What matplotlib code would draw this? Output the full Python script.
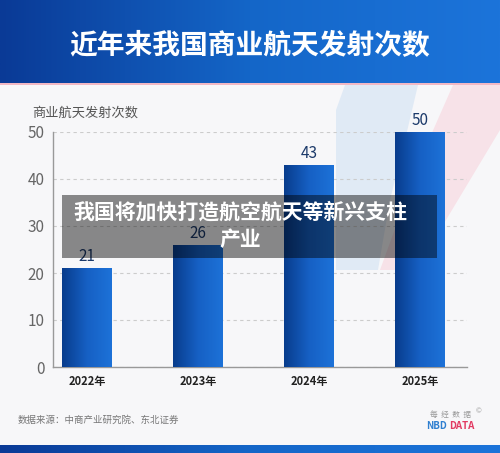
import matplotlib
matplotlib.use("Agg")
import matplotlib.pyplot as plt
import numpy as np
from matplotlib.patches import Rectangle, Polygon
from matplotlib.colors import LinearSegmentedColormap

plt.rcParams['font.family'] = ['Noto Sans CJK SC', 'DejaVu Sans']

years = ["2022年", "2023年", "2024年", "2025年"]
launches = [21, 26, 43, 50]
yticks = [0, 10, 20, 30, 40, 50]
title = "近年来我国商业航天发射次数"
ylabel = "商业航天发射次数"
overlay_text = "我国将加快打造航空航天等新兴支柱\n产业"
source = "数据来源：中商产业研究院、东北证券"

W, H = 500, 453
fig = plt.figure(figsize=(W / 100, H / 100), dpi=100)
fig.patch.set_facecolor("#f7f7f9")

def fx(px):
    return px / W

def fy(py):
    return 1 - py / H

# decorative background shapes
bg = fig.add_axes([0, 0, 1, 1], zorder=0)
bg.set_xlim(0, W); bg.set_ylim(H, 0); bg.axis("off")
bg.add_patch(Polygon([[345, 85], [418, 85], [405, 140], [390, 200], [378, 270], [336, 270], [336, 110]],
                     closed=True, facecolor="#dbe7f5", edgecolor="none", alpha=0.8))
bg.add_patch(Polygon([[453, 85], [500, 85], [500, 130], [440, 230], [415, 270], [380, 270], [420, 160]],
                     closed=True, facecolor="#f8dde4", edgecolor="none", alpha=0.8))

# header band with gradient
hdr = fig.add_axes([0, fy(83), 1, 83 / H], zorder=1)
grad = np.linspace(0, 1, 256).reshape(1, -1)
hcmap = LinearSegmentedColormap.from_list("h", ["#0a3a96", "#1466c8", "#1c74da"])
hdr.imshow(grad, aspect="auto", cmap=hcmap, extent=[0, 1, 0, 1])
hdr.axis("off")
hdr.text(0.5, 0.45, title, color="white", fontsize=20, fontweight="bold",
         ha="center", va="center")
fig.add_artist(Rectangle((0, fy(85)), 1, 2 / H, transform=fig.transFigure,
                         facecolor="#f2b8c4", edgecolor="none", zorder=2))

# footer band
ftr = fig.add_axes([0, 0, 1, 8 / H], zorder=1)
ftr.imshow(grad, aspect="auto", cmap=hcmap, extent=[0, 1, 0, 1])
ftr.axis("off")

# main axes
ax = fig.add_axes([fx(53), fy(367), fx(467) - fx(53), fy(132) - fy(367)], zorder=2)
ax.set_facecolor("none")
x = np.arange(len(years))
bars = ax.bar(x, launches, width=0.45, color="#1457b8", zorder=2)
bcmap = LinearSegmentedColormap.from_list("b", ["#083c8c", "#1660c4", "#1d72d8"])
for b in bars:
    bx, by = b.get_x(), b.get_y()
    bw, bh = b.get_width(), b.get_height()
    im = ax.imshow(grad, aspect="auto", cmap=bcmap,
                   extent=[bx, bx + bw, by, by + bh], zorder=3)
    im.set_clip_path(b)
for xi, v in zip(x, launches):
    ax.text(xi, v + 0.6, str(v), ha="center", va="bottom", fontsize=11,
            color="#1c3a6a", zorder=4)

ax.set_xlim(-0.306, 3.42)
ax.set_ylim(0, 50)
ax.set_yticks(yticks)
ax.set_yticklabels([str(t) for t in yticks], fontsize=11, color="#666666")
ax.set_xticks(x)
ax.set_xticklabels(years, fontsize=8, fontweight="bold", color="#222222")
ax.tick_params(axis="both", length=0)
ax.tick_params(axis="y", pad=6)
ax.tick_params(axis="x", pad=6)
ax.grid(axis="y", linestyle=(0, (3, 3)), color="#cccccc", linewidth=0.8, zorder=0)
ax.set_axisbelow(True)
for s in ["top", "right"]:
    ax.spines[s].set_visible(False)
ax.spines["left"].set_color("#999999")
ax.spines["bottom"].set_color("#999999")
ax.spines["left"].set_linewidth(1)
ax.spines["bottom"].set_linewidth(1)

fig.text(fx(32), fy(113), ylabel, fontsize=9.5, color="#555555", ha="left", va="center", zorder=3)

# overlay
fig.add_artist(Rectangle((fx(62), fy(258)), fx(437) - fx(62), (258 - 195) / H,
                         transform=fig.transFigure, facecolor="black", alpha=0.45,
                         edgecolor="none", zorder=5))
fig.text(fx(240), fy(226), overlay_text, fontsize=15, fontweight="bold", color="white",
         ha="center", va="center", linespacing=1.35, zorder=6)

# footer texts
fig.text(fx(18), fy(420), source, fontsize=6.8, color="#777777", ha="left", va="center", zorder=3)
fig.text(fx(450), fy(415), "每  经  数  据", fontsize=5.5, color="#999999", ha="center", va="center", zorder=3)
fig.text(fx(479), fy(411), "©", fontsize=5, color="#999999", ha="center", va="center", zorder=3)
fig.text(fx(446.5), fy(426), "NBD", fontsize=7, fontweight="bold", color="#2f7fd0",
         ha="right", va="center", zorder=3)
fig.text(fx(449), fy(426), "DATA", fontsize=7, fontweight="bold", color="#e23a62",
         ha="left", va="center", zorder=3)

fig.savefig("out.png", dpi=100, facecolor=fig.get_facecolor())
